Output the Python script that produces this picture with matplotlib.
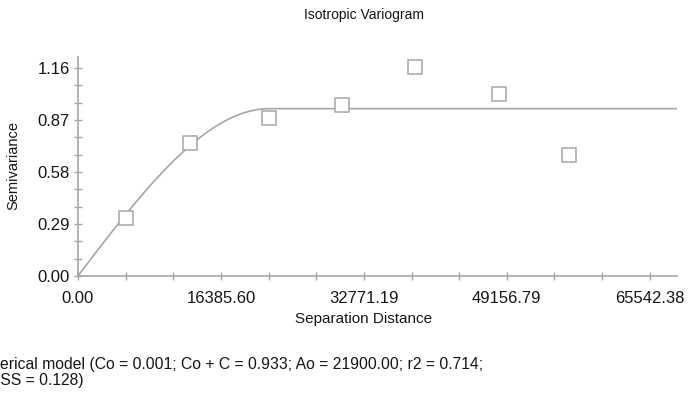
import numpy as np
import matplotlib.pyplot as plt
from matplotlib.ticker import MultipleLocator, FixedLocator
from matplotlib.transforms import blended_transform_factory

plt.rcParams['font.family'] = ['Liberation Sans', 'DejaVu Sans']

# experimental semivariance (lag distance, semivariance)
lag_dist = [5450, 12870, 21890, 30290, 38640, 48280, 56270]
semivar = [0.322, 0.742, 0.879, 0.954, 1.164, 1.015, 0.677]

# spherical model parameters
nugget = 0.001
sill = 0.933
range_a = 21900.0

x_ticks = [0.00, 16385.60, 32771.19, 49156.79, 65542.38]
x_labels = ['0.00', '16385.60', '32771.19', '49156.79', '65542.38']
y_ticks = [0.00, 0.29, 0.58, 0.87, 1.16]
y_labels = ['0.00', '0.29', '0.58', '0.87', '1.16']

caption1 = "Spherical model (Co = 0.001; Co + C = 0.933; Ao = 21900.00; r2 = 0.714;"
caption2 = "RSS = 0.128)"

gray = '#a6a6a6'
txt = '#151515'

#model curve
xmax = 68662
h = np.linspace(0, xmax, 600)
r = np.clip(h / range_a, 0, 1)
gam = nugget + (sill - nugget) * (1.5 * r - 0.5 * r ** 3)

fig = plt.figure(figsize=(6.88, 4.01), dpi=100)
ax = fig.add_axes([78 / 688, 125 / 401, 599 / 688, 219 / 401])

ax.plot(h, gam, color=gray, lw=1.2)
ax.plot(lag_dist, semivar, 's', ms=10, mfc='white', mec=gray, mew=1.1, ls='none')

ax.set_xlim(0, xmax)
ax.set_ylim(0, 1.221)
ax.xaxis.set_major_locator(FixedLocator(x_ticks))
ax.xaxis.set_minor_locator(MultipleLocator(65542.38 / 12))
ax.yaxis.set_major_locator(FixedLocator(y_ticks))
ax.yaxis.set_minor_locator(MultipleLocator(0.29 / 3))
ax.set_xticklabels(x_labels)
ax.set_yticklabels(y_labels)

for s in ['top', 'right']:
    ax.spines[s].set_visible(False)
for s in ['left', 'bottom']:
    ax.spines[s].set_color(gray)
    ax.spines[s].set_linewidth(1.2)
ax.tick_params(which='both', direction='inout', color=gray, width=1, length=6,
               labelsize=12, labelcolor=txt)
ax.tick_params(axis='x', pad=8)
ax.tick_params(axis='y', pad=3)

tr = blended_transform_factory(ax.transData, fig.transFigure)
ax.text(65542.38 / 2, 1 - 15 / 401, 'Isotropic Variogram', transform=tr,
        ha='center', va='center', fontsize=10, color=txt)
ax.text(65542.38 / 2, 1 - 319 / 401, 'Separation Distance', transform=tr,
        ha='center', va='center', fontsize=11, color=txt)
fig.text(13 / 688, 1 - 166 / 401, 'Semivariance', rotation=90,
         ha='center', va='center', fontsize=10.5, color=txt)
fig.text(-28 / 688, 1 - 365 / 401, caption1, ha='left', va='center',
         fontsize=11.3, color=txt)
fig.text(-11 / 688, 1 - 381 / 401, caption2, ha='left', va='center',
         fontsize=11.3, color=txt)

fig.savefig('out.png', dpi=100)
